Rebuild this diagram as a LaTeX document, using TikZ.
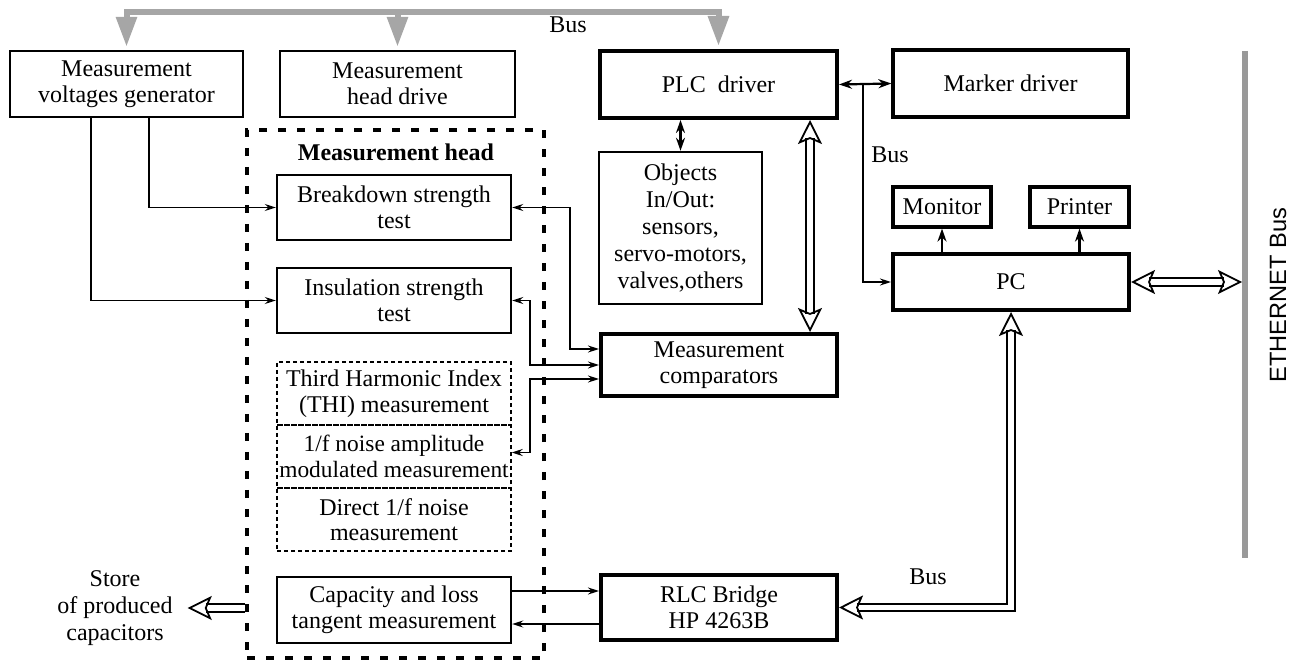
\documentclass[tikz,border=0pt]{standalone}
\usepackage{fontspec}
\setmainfont{Liberation Serif}
\newfontfamily\ethfont{Liberation Sans}
\usepackage{xcolor}
\usepackage{tikz}
\usetikzlibrary{arrows.meta}
\definecolor{busgray}{HTML}{A6A6A6}
\definecolor{ethgray}{HTML}{999999}

\begin{document}
\begin{tikzpicture}[
  x=0.5pt, y=-0.5pt,
  font=\fontsize{12}{12.8}\selectfont,
  >={Stealth[length=5.5pt,width=3.5pt]},
  bustip/.tip={Triangle[length=15pt,width=10pt]},
  box/.style={draw, line width=1.2pt, inner sep=1pt, align=center},
  boldbox/.style={box, line width=2pt},
  subbox/.style={draw, line width=0.7pt, dash pattern=on 2.2pt off 1.3pt,
    inner sep=0.5pt, align=center, minimum width=117pt, minimum height=31.5pt},
  headframe/.style={draw, line width=2pt, dash pattern=on 4pt off 5.5pt},
  link/.style={line width=0.75pt},
  link2/.style={line width=1.1pt, >={Stealth[length=6.5pt,width=4.5pt]}},
  bus/.style={line width=3pt, busgray},
  hollow/.style={double, line width=0.9pt, double distance=2.8pt,
    >={Stealth[open,length=12pt,width=12pt,inset=2.5pt]}}
]

\useasboundingbox (0,0) rectangle (1300,662);

\coordinate (bustop) at (0,12);
\coordinate (ethT) at (1245,51);
\coordinate (ethB) at (1245,558);
\coordinate (tap) at (863,84);

\node [box, minimum width=116.5pt, minimum height=33pt] (gen) at (126.5,84) {Measurement\\voltages generator};
\node [box, minimum width=117.5pt, minimum height=33pt] (hdrive) at (397.5,84) {Measurement\\head drive};
\node [boldbox, minimum width=118.5pt, minimum height=33.5pt] (plc) at (718.5,84.5) {PLC\ \ driver};
\node [box, line width=1.6pt, minimum width=117.5pt, minimum height=33.5pt] (marker) at (1010.5,83.5) {Marker driver};
\node [box, minimum width=81.5pt, minimum height=76pt, font=\fontsize{12}{13.5}\selectfont] (objects) at (680.5,228)
  {Objects\\In/Out:\\sensors,\\servo-motors,\\valves,others};
\node [boldbox, minimum width=118pt, minimum height=31pt] (comp) at (719,365) {Measurement\\comparators};
\node [box, line width=1.6pt, minimum width=49pt, minimum height=20pt] (monitor) at (942,207) {Monitor};
\node [box, line width=1.6pt, minimum width=49.5pt, minimum height=20pt] (printer) at (1079.5,207) {Printer};
\node [boldbox, minimum width=118pt, minimum height=28pt] (pc) at (1011,282) {PC};
\node [boldbox, minimum width=118pt, minimum height=32.5pt] (rlc) at (719,607.5) {RLC Bridge\\HP 4263B};

\node [headframe, minimum width=148.5pt, minimum height=264pt] (head) at (395.5,394) {};
\node [font=\fontsize{12}{13}\selectfont\bfseries] (headlbl) at (396,152) {Measurement head};
\node [box, minimum width=117pt, minimum height=32.5pt] (bst) at (394,207.5) {Breakdown strength\\test};
\node [box, minimum width=117pt, minimum height=32.5pt] (ist) at (394,300.5) {Insulation strength\\test};
\node [subbox] (thi) at (394,393.5) {Third Harmonic Index\\(THI) measurement};
\node [subbox, inner xsep=0pt, font=\fontsize{11.7}{12.8}\selectfont] (noise) at (394,456.5) {1/f noise amplitude\\modulated measurement};
\node [subbox] (direct) at (394,519.5) {Direct 1/f noise\\measurement};
\node [box, minimum width=117pt, minimum height=33pt] (cap) at (394,610) {Capacity and loss\\tangent measurement};

\node [align=center, font=\fontsize{12}{13.5}\selectfont] (store) at (115,608) {Store\\of produced\\capacitors};
\node (busA) at (568,25) {Bus};
\node (busB) at (890,155) {Bus};
\node (busC) at (928,577) {Bus};
\node [font=\ethfont\fontsize{11.8}{13}\selectfont, rotate=90] (ethlbl) at (1278,295) {ETHERNET Bus};

% system bus
\draw [bus, {bustip}-{bustip}, shorten <=1.5pt, shorten >=1.5pt]
  (gen.north) -- (gen.north |- bustop) -- (plc.north |- bustop) -- (plc.north);
\draw [bus, -{bustip}, shorten >=1.5pt] (hdrive.north |- bustop) -- (hdrive.north);
\draw [ethgray, line width=3pt] (ethT) -- (ethB);

\draw [link2, <->] (plc.east) -- (marker.west);
\draw [link2, <->] (plc.south -| objects) -- (objects.north);
\draw [link, ->] (tap) |- (pc.west);
\draw [link2, ->] (pc.north -| monitor) -- (monitor.south);
\draw [link2, ->] (pc.north -| printer) -- (printer.south);

\draw [link, ->] ([xshift=11.25pt]gen.south) |- (bst.west);
\draw [link, ->] ([xshift=-17.75pt]gen.south) |- (ist.west);
\draw [link, <->] ([yshift=8pt]comp.west) -- ++(-29,0) |- (bst.east);
\draw [link, <->] (comp.west) -- ++(-69,0) |- (ist.east);
\draw [link, <->] ([yshift=-7pt]comp.west) -- ++(-69,0) |- ([yshift=2pt]noise.east);
\draw [link, ->] ([yshift=9.5pt]cap.east) -- ([yshift=9.5pt]cap.east -| rlc.west);
\draw [link, ->] ([yshift=-7pt]cap.east -| rlc.west) -- ([yshift=-7pt]cap.east);

\draw [hollow, <->] ([xshift=-14.5pt]plc.south east) -- ([xshift=-14.5pt]comp.north east);
\draw [hollow, <->, shorten >=1.5pt] (pc.east) -- (pc.east -| ethT);
\draw [hollow, <->] (rlc.east) -| (pc.south);
\draw [hollow, ->, shorten >=4pt] (head.west |- store) -- (store.east);

\end{tikzpicture}
\end{document}
